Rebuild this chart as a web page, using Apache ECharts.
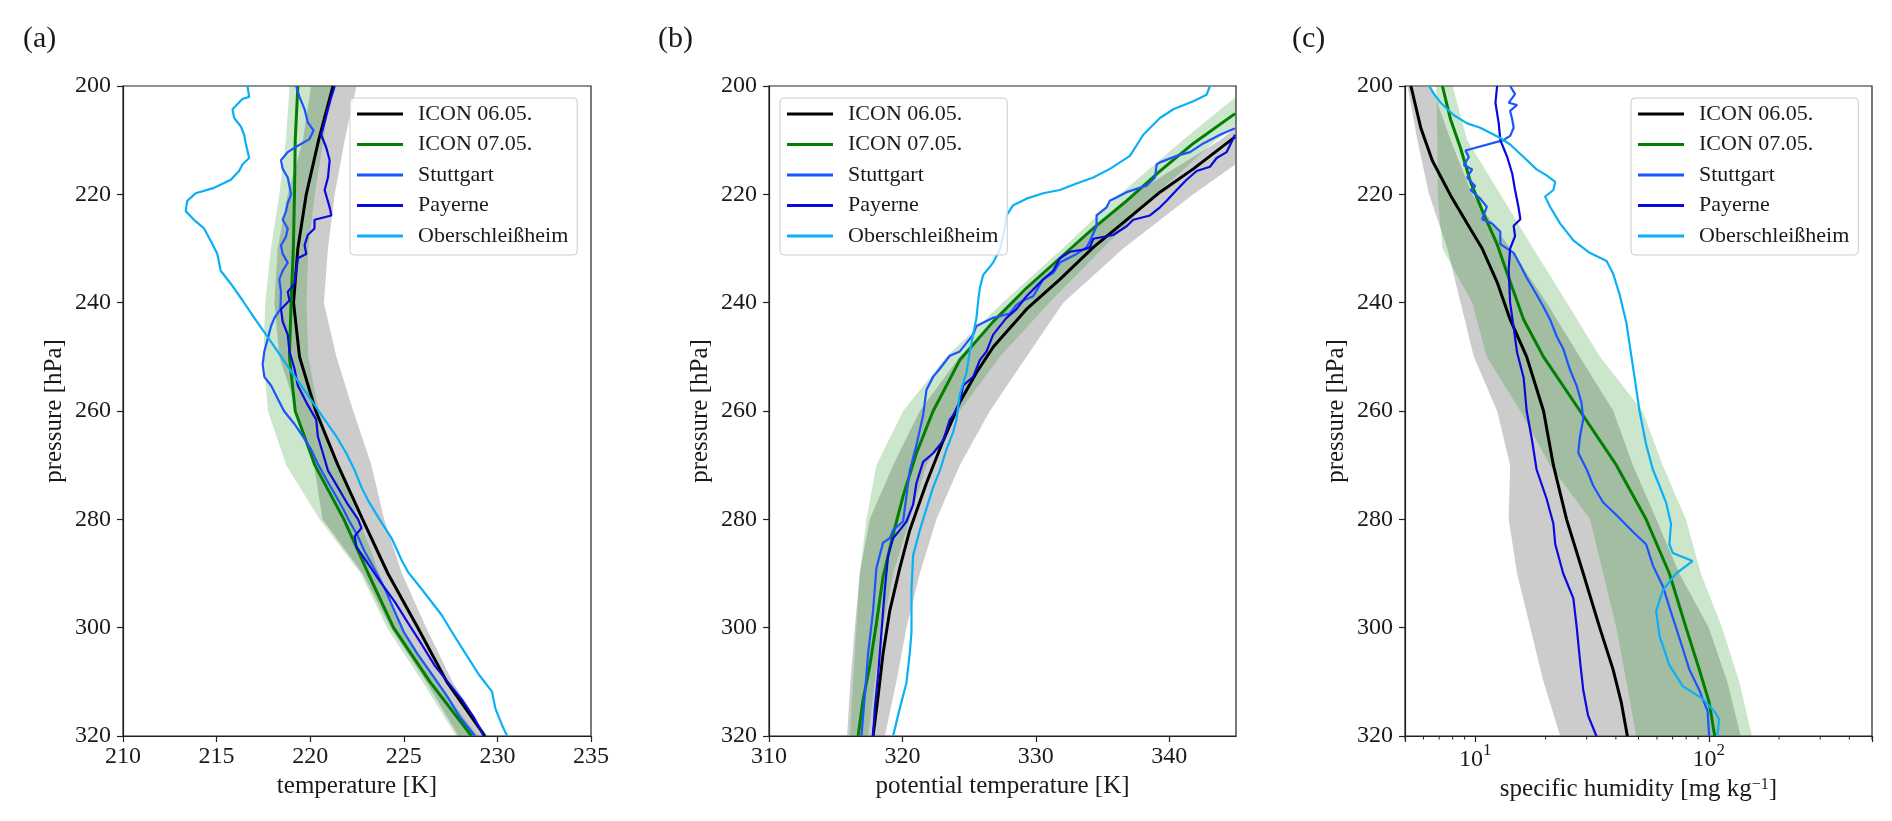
<!DOCTYPE html>
<html><head><meta charset="utf-8">
<script src="https://cdn.jsdelivr.net/npm/echarts@6/dist/echarts.min.js"></script>
<style>html,body{margin:0;padding:0;background:#fff}#chart{width:1892px;height:821px}</style>
</head><body><div id="chart"></div>
<script>
// ---------- names, ticks, labels ----------
const seriesNames = ['ICON 06.05.', 'ICON 07.05.', 'Stuttgart', 'Payerne', 'Oberschleißheim'];
const seriesColors = ['#000000', '#008000', '#1a55ff', '#0a0ae0', '#0ab0f5'];
const panelLabels = ['(a)', '(b)', '(c)'];
const xAxisNames = ['temperature [K]', 'potential temperature [K]', 'specific humidity [mg kg{s|−1}]'];
const yAxisName = 'pressure [hPa]';
const pressureTicks = [200, 220, 240, 260, 280, 300, 320];
const tempTicks = [210, 215, 220, 225, 230, 235];
const thetaTicks = [310, 320, 330, 340];
const humidityMajorTicks = [10, 100];
const humidityMajorLabels = ['{b|10}{s|1}', '{b|10}{s|2}'];
const humidityMinorTicks = [5, 6, 7, 8, 9, 20, 30, 40, 50, 60, 70, 80, 90, 200, 300, 400, 500];

// ---------- panel (a): temperature [K] vs pressure [hPa] ----------
const tempIcon0605 = [[221.22,200],[220.45,210],[219.79,220],[219.34,230],[219.11,240],[219.43,250],[220.3,260],[221.48,270],[222.8,280],[224.15,290],[225.75,300],[227.3,310],[229.33,320]];
const tempIcon0705 = [[219.34,200],[219.2,210],[219.16,220],[219.1,230],[218.98,240],[218.89,250],[219.2,260],[220.25,270],[221.8,280],[223.1,290],[224.45,300],[226.4,310],[228.62,320]];
const tempStuttgart = [[219.25,200],[219.43,202],[219.7,204.3],[219.87,206.7],[220.18,208.2],[219.96,209.8],[219.16,211.4],[218.8,212.2],[218.44,213.7],[218.53,215.3],[218.8,216.9],[218.89,218.4],[218.98,220],[218.8,221.6],[218.71,223.1],[218.53,224.7],[218.8,226.3],[218.71,227.8],[218.44,229.4],[218.53,231],[218.8,232.6],[218.53,234.1],[218.35,235.7],[218.44,238],[218.41,241.2],[218.09,242.8],[217.91,244.3],[217.73,246.7],[217.55,249],[217.46,251.4],[217.55,253.7],[217.91,255.3],[218.26,257.7],[218.6,260],[219.16,262.4],[219.61,264.7],[220.05,267.1],[220.41,269.8],[220.86,272.6],[221.31,275.3],[221.75,278],[222.1,280.4],[222.5,282.8],[222.9,285.9],[223.4,289],[224.0,292.9],[224.5,296.9],[225.0,300.8],[225.7,304.7],[226.5,308.6],[227.3,312.6],[228.0,316.5],[228.8,320]];
const tempPayerne = [[221.31,200],[221.13,202],[220.95,204.3],[220.77,206.7],[220.59,209],[220.86,211.4],[221.04,213.7],[220.95,216.9],[220.77,219.2],[221.04,222.4],[221.13,223.9],[220.23,224.7],[220.23,226.3],[219.87,227.5],[219.7,229.4],[219.79,231],[219.34,231.8],[219.25,234.1],[219.16,236.5],[218.8,238],[218.89,239.6],[218.44,241.2],[218.53,243.5],[218.8,245.9],[218.89,249],[219.16,252.2],[219.34,255.3],[219.79,258.4],[220.32,261.6],[220.41,264.7],[220.68,267.8],[220.95,271],[221.48,274.1],[222.02,277.3],[222.56,280],[222.74,281.6],[222.38,283.1],[222.47,285.1],[223.09,288.2],[223.72,291.4],[224.53,295.3],[225.24,299.2],[225.96,303.1],[226.67,307.1],[227.39,310.2],[228.1,313.3],[228.73,316.5],[229.27,320]];
const tempOberschleissheim = [[216.65,200],[216.74,202],[216.38,202.4],[215.85,204.3],[215.94,205.9],[216.3,207.5],[216.47,209],[216.56,210.6],[216.74,213.3],[216.38,214.5],[216.2,215.7],[215.76,217.3],[214.87,218.8],[213.88,219.8],[213.43,221.2],[213.35,223.1],[213.79,224.7],[214.33,226.3],[214.69,228.6],[215.04,231],[215.22,234.1],[215.76,236.5],[216.39,239.6],[217.01,242.8],[217.64,245.9],[218.26,249],[218.89,252.2],[219.52,255.3],[220.14,258.4],[220.77,261.6],[221.4,264.7],[221.93,267.8],[222.38,271],[222.74,274.1],[223.09,276.5],[223.63,279.6],[224.35,283.5],[224.88,287.5],[225.24,289.8],[225.96,292.9],[227.03,297.7],[227.57,300.8],[228.28,304.7],[229.0,308.6],[229.71,311.8],[229.89,314.9],[230.25,318],[230.52,320]];
// spread bands: [pressure, low, high]
const tempBand0605 = [[200,220.05,222.47],[210,219.61,221.84],[220,218.8,221.31],[230,218.26,220.95],[240,218.09,220.73],[250,218.35,221.4],[260,219.3,222.3],[270,220.2,223.27],[280,220.66,223.95],[290,222.8,224.9],[300,224.3,226.2],[310,226.2,227.6],[320,227.92,229.45]];
const tempBand0705 = [[200,218.9,221.15],[210,218.7,220.7],[220,218.35,220.25],[230,217.9,219.9],[240,217.6,219.8],[250,217.5,219.9],[260,217.74,220.45],[270,218.72,221.5],[280,220.5,222.6],[290,222.7,223.7],[300,224.1,224.9],[310,226.0,226.8],[320,227.8,228.95]];

// ---------- panel (b): potential temperature [K] vs pressure [hPa] ----------
const thetaIcon0605 = [[344.93,209.4],[341.8,215.3],[339.3,219.6],[336.8,224.7],[334.3,229.8],[331.8,235.7],[329.3,241.2],[326.8,248.2],[325.55,252.9],[324.3,258.4],[323.05,265.5],[321.8,273.3],[320.55,282],[319.8,289],[319.05,296.9],[318.55,304.7],[318.18,312.6],[317.8,320]];
const thetaIcon0705 = [[344.93,205.1],[341.8,210.6],[339.3,215.7],[336.8,221.2],[334.3,226.3],[331.8,231.8],[329.3,237.3],[326.8,243.5],[324.3,250.6],[322.3,260],[321.05,267.8],[320.05,275.7],[319.3,282.8],[318.55,290.6],[318.05,299.2],[317.55,307.1],[317.05,313.3],[316.68,320]];
const thetaStuttgart = [[344.93,207.8],[343.8,209],[342.55,210.6],[341.55,212.2],[340.55,212.9],[339.3,214.1],[339.05,214.5],[338.93,216.9],[338.3,218.4],[336.8,219.6],[335.55,221.2],[335.3,222.4],[334.55,223.9],[334.55,225.9],[334.05,228.6],[333.8,229.8],[333.05,231],[331.8,232.6],[331.3,234.5],[330.55,235.7],[329.8,238.8],[329.05,239.6],[328.55,240.4],[328.05,242],[326.8,242.8],[325.55,244.3],[325.3,245.9],[324.3,249],[323.55,249.8],[322.8,252.2],[322.3,253.7],[321.8,256.1],[321.55,260.8],[321.05,266.3],[320.55,271],[320.3,275.7],[320.05,280.4],[319.3,282],[319.05,283.5],[318.55,284.3],[318.05,289],[317.8,296.9],[317.43,304.7],[317.18,312.6],[316.93,320]];
const thetaPayerne = [[344.93,209],[344.3,212.2],[343.55,213.3],[343.05,214.9],[342.05,215.7],[341.3,217.3],[340.55,219.2],[339.8,221.2],[339.3,222.4],[338.55,223.9],[337.3,224.7],[336.8,225.9],[335.8,227.5],[334.3,228.2],[334.05,229.8],[333.55,230.2],[332.55,230.6],[331.8,231.8],[331.3,234.1],[330.55,235.7],[329.3,238.8],[328.55,241.2],[327.8,242.8],[326.8,245.9],[326.3,249],[325.8,250.6],[325.3,253.7],[324.55,255.3],[324.3,258.4],[323.8,260.8],[323.55,261.6],[323.05,265.5],[322.3,267.8],[321.55,269.4],[321.05,273.3],[320.8,277.3],[320.3,280.4],[319.8,282],[319.3,283.5],[318.93,286.7],[318.68,292.9],[318.43,300.8],[318.18,308.6],[317.93,314.9],[317.8,320]];
const thetaOberschleissheim = [[343.05,200],[342.8,201.6],[341.8,202.8],[340.3,204.3],[339.3,205.9],[338.05,209],[337.05,212.9],[335.55,215.3],[334.3,216.9],[333.05,218],[331.8,219.2],[330.55,219.8],[329.3,220.8],[328.3,222],[327.8,223.9],[327.68,226.3],[327.3,230.2],[326.8,232.6],[326.05,234.9],[325.8,237.3],[325.68,239.6],[325.55,242.8],[325.3,245.9],[325.05,249],[324.8,252.9],[324.3,256.9],[324.05,261.6],[323.8,263.9],[323.3,267.1],[322.8,271],[322.3,274.1],[321.8,278],[321.3,282],[320.8,286.7],[320.68,292.9],[320.68,300.8],[320.55,304.7],[320.3,310.2],[319.8,314.9],[319.3,320]];
const thetaBand0605 = [[200,349.0,352.0],[210,343.8,347.5],[220,337.3,341.8],[230,332.8,336.55],[240,328.3,332.05],[250,324.3,329.3],[260,321.3,326.55],[270,319.3,324.3],[280,317.55,322.55],[290,316.8,321.3],[300,316.43,320.3],[310,316.1,319.55],[320,315.85,318.68]];
const thetaBand0705 = [[200,346.0,349.0],[210,341.0,343.5],[220,336.3,339.0],[230,332.0,335.0],[240,327.5,331.0],[250,323.3,327.3],[260,320.05,324.3],[270,318.05,321.8],[280,317.3,320.55],[290,316.8,319.3],[300,316.55,318.55],[310,316.3,317.93],[320,316.05,317.43]];

// ---------- panel (c): specific humidity [mg/kg] vs pressure [hPa] ----------
const qIcon0605 = [[5.30,200],[5.84,207.7],[6.55,213.8],[7.84,220.2],[9.23,225.4],[10.7,230],[12.4,236.2],[14.1,243.1],[16.6,250],[19.6,260],[21.6,270],[24.6,280],[29.0,290],[34.1,300],[38.9,307.7],[42.2,313.8],[44.8,320]];
const qIcon0705 = [[7.23,200],[7.84,206.2],[8.65,211.5],[9.54,217.7],[10.9,223.8],[12.4,229.2],[13.7,234.6],[16.1,243.1],[19.6,250],[28.1,260],[40.2,270],[53.9,280],[67.8,290],[79.9,300],[91.0,307.7],[100.4,313.8],[106,320]];
const qStuttgart = [[14.1,200],[14.8,201.5],[13.9,203.1],[15.1,203.5],[14.1,204.6],[14.4,206.2],[14.6,207.7],[14.1,209.2],[13.2,210],[9.08,211.9],[9.38,213.1],[8.94,214.6],[9.70,215.4],[9.23,216.9],[10.0,218.5],[9.54,219.2],[10.5,220.8],[11.2,222.3],[10.7,224.6],[11.8,225.4],[12.8,226.9],[12.8,229.2],[14.6,230.8],[15.6,233.1],[16.6,235.4],[18.3,238.5],[19.6,240.8],[20.9,243.1],[22.3,246.2],[23.8,248.5],[25.4,252.3],[27.2,255.4],[28.5,258.5],[29.0,261.5],[28.1,264.6],[27.6,267.7],[30.0,270.8],[32.0,273.8],[35.3,276.9],[40.2,279.2],[47.3,282.3],[53.9,284.6],[57.6,288.5],[63.5,292.3],[67.8,296.2],[72.4,300],[77.3,303.8],[82.5,307.7],[91.0,311.5],[98.8,315.4],[100.4,320]];
const qPayerne = [[12.4,200],[12.2,203.1],[12.6,206.9],[12.8,210],[13.7,213.1],[14.4,216.2],[14.8,219.2],[15.3,222.3],[15.6,224.6],[14.6,225.8],[14.8,227.7],[14.1,230],[13.9,233.8],[14.1,240],[14.6,244.6],[15.1,249.2],[16.1,253.8],[16.6,260],[17.5,265.4],[18.3,270.8],[20.2,276.2],[21.6,280.8],[22.0,284.6],[23.8,290],[26.3,294.6],[27.2,300],[28.1,306.2],[29.0,311.5],[30.4,316.2],[33.0,320]];
const qOberschleissheim = [[6.34,200],[6.66,201.5],[7.11,203.1],[8.10,205.4],[9.23,206.9],[10.5,207.7],[12.8,209.6],[14.1,210.8],[16.1,213.1],[18.3,215.4],[20.2,216.5],[22.0,217.7],[21.6,219.2],[19.9,220.4],[20.9,222.3],[23.1,225.4],[26.3,228.5],[30.9,230.8],[36.5,232.3],[38.9,234.6],[41.5,238.5],[44.4,243.8],[45.8,247.7],[48.1,253.8],[50.5,260],[53.9,266.2],[57.6,270.8],[61.5,273.8],[65.6,276.9],[68.9,280.8],[67.8,284.6],[70.1,286.2],[85.2,287.7],[72.4,290],[63.5,293.1],[59.5,296.9],[61.5,301.5],[67.8,306.9],[77.3,310.8],[94.0,313.1],[105.4,315.4],[110.7,316.9],[108.9,320]];
const qBand0605 = [[200,5.13,6.5],[210,5.65,7.84],[220,6.34,9.7],[230,7.59,14.1],[240,8.65,20.2],[250,9.86,28.0],[260,12.4,39.0],[270,14.1,47.3],[280,13.9,59.6],[290,15.1,74.8],[300,17.2,100],[310,19.6,120],[320,23.1,137]];
const qBand0705 = [[200,6.8,8.0],[210,6.88,9.23],[220,6.9,12.8],[230,7.23,17.7],[240,9.7,24.7],[250,11.2,34.2],[260,15.6,52],[270,20.9,63.5],[280,31.0,79.8],[290,35.3,92.5],[300,40.2,114],[310,44.4,135],[320,48.9,153]];

// ---------- styling / layout ----------
const FONT = "'Liberation Serif','DejaVu Serif',serif";
const TXT = '#1a1a1a';
const AX = '#222222';
const grids = [
  {left: 123, top: 86, width: 468, height: 650},
  {left: 769, top: 86, width: 467, height: 650},
  {left: 1405, top: 86, width: 467, height: 650}
];
const legendLeft = [350, 780, 1631];
const titleLeft = [18, 653, 1287];
const bandGrey = 'rgba(128,128,128,0.4)';
const bandGreen = 'rgba(0,128,0,0.2)';

function bandSeries(rows, color, gi, nm) {
  return {
    type: 'custom', name: nm, xAxisIndex: gi, yAxisIndex: gi, data: rows,
    encode: {x: [1, 2], y: 0}, clip: true, silent: true, z: 1, animation: false,
    renderItem: function (params, api) {
      if (params.dataIndex !== 0) return null;
      const pts = [];
      for (let i = 0; i < rows.length; i++) pts.push(api.coord([rows[i][1], rows[i][0]]));
      for (let i = rows.length - 1; i >= 0; i--) pts.push(api.coord([rows[i][2], rows[i][0]]));
      const cs = params.coordSys;
      return {
        type: 'polygon', shape: {points: pts}, style: {fill: color, stroke: null},
        clipPath: {type: 'rect', shape: {x: cs.x, y: cs.y, width: cs.width, height: cs.height}}
      };
    }
  };
}
function lineSeries(data, idx, gi) {
  return {
    type: 'line', name: seriesNames[idx], xAxisIndex: gi, yAxisIndex: gi, data: data,
    symbol: 'none', showSymbol: false, clip: true, z: 3, animation: false,
    lineStyle: {color: seriesColors[idx], width: idx < 2 ? 3 : 2.2},
    itemStyle: {color: seriesColors[idx]}
  };
}
const tickStyle = {show: true, inside: false, length: 6, lineStyle: {color: AX, width: 1.2}};
const lineStyleAx = {show: true, lineStyle: {color: AX, width: 1.2}};
const labelStyle = {fontFamily: FONT, fontSize: 24, color: TXT};
const nameStyle = {fontFamily: FONT, fontSize: 25, color: TXT,
  rich: {s: {fontFamily: FONT, fontSize: 16, color: TXT, verticalAlign: 'top', lineHeight: 16}}};

const yAxes = [0, 1, 2].map(gi => ({
  type: 'value', gridIndex: gi, min: 200, max: 320, interval: 20, inverse: true,
  name: yAxisName, nameLocation: 'middle', nameRotate: 90, nameGap: 56, nameTextStyle: nameStyle,
  axisLine: lineStyleAx, axisTick: tickStyle,
  axisLabel: Object.assign({margin: 12, formatter: v => pressureTicks.includes(v) ? String(v) : ''}, labelStyle),
  splitLine: {show: false}
}));
const xAxes = [
  {type: 'value', gridIndex: 0, min: tempTicks[0], max: tempTicks[tempTicks.length - 1], interval: 5,
   axisLabel: Object.assign({margin: 9, formatter: v => tempTicks.includes(v) ? String(v) : ''}, labelStyle)},
  {type: 'value', gridIndex: 1, min: 310, max: 345, interval: 10,
   axisTick: Object.assign({customValues: thetaTicks}, tickStyle),
   axisLabel: Object.assign({margin: 9, customValues: thetaTicks, formatter: v => thetaTicks.includes(v) ? String(v) : ''}, labelStyle)},
  {type: 'log', logBase: 10, gridIndex: 2, min: 5, max: 500,
   axisLabel: Object.assign({margin: 6, formatter: function (v) {
     for (let i = 0; i < humidityMajorTicks.length; i++) {
       if (Math.abs(v - humidityMajorTicks[i]) < 1e-6 * humidityMajorTicks[i]) return humidityMajorLabels[i];
     }
     return '';
   }, rich: {
     b: {fontFamily: FONT, fontSize: 24, color: TXT, lineHeight: 30, verticalAlign: 'bottom'},
     s: {fontFamily: FONT, fontSize: 17, color: TXT, lineHeight: 30, verticalAlign: 'top'}
   }}, labelStyle)}
].map((ax, gi) => Object.assign({
  name: xAxisNames[gi], nameLocation: 'middle', nameGap: 38, nameTextStyle: nameStyle,
  axisLine: lineStyleAx, axisTick: ax.axisTick || tickStyle, splitLine: {show: false}, minorTick: {show: false}
}, ax));

const minorTickSeries = {
  type: 'custom', xAxisIndex: 2, yAxisIndex: 2, data: humidityMinorTicks.map(v => [v, 320]),
  encode: {x: 0, y: 1}, clip: false, silent: true, z: 5, animation: false,
  renderItem: function (params, api) {
    const p = api.coord([api.value(0), api.value(1)]);
    return {type: 'line', shape: {x1: p[0], y1: p[1], x2: p[0], y2: p[1] + 3.5}, style: {stroke: AX, lineWidth: 1}};
  }
};

const series = [
  bandSeries(tempBand0605, bandGrey, 0, 'band a1'), bandSeries(tempBand0705, bandGreen, 0, 'band a2'),
  lineSeries(tempIcon0605, 0, 0), lineSeries(tempIcon0705, 1, 0), lineSeries(tempStuttgart, 2, 0), lineSeries(tempPayerne, 3, 0), lineSeries(tempOberschleissheim, 4, 0),
  bandSeries(thetaBand0605, bandGrey, 1, 'band b1'), bandSeries(thetaBand0705, bandGreen, 1, 'band b2'),
  lineSeries(thetaIcon0605, 0, 1), lineSeries(thetaIcon0705, 1, 1), lineSeries(thetaStuttgart, 2, 1), lineSeries(thetaPayerne, 3, 1), lineSeries(thetaOberschleissheim, 4, 1),
  bandSeries(qBand0605, bandGrey, 2, 'band c1'), bandSeries(qBand0705, bandGreen, 2, 'band c2'),
  lineSeries(qIcon0605, 0, 2), lineSeries(qIcon0705, 1, 2), lineSeries(qStuttgart, 2, 2), lineSeries(qPayerne, 3, 2), lineSeries(qOberschleissheim, 4, 2),
  minorTickSeries
];

const option = {
  animation: false,
  backgroundColor: '#ffffff',
  title: panelLabels.map((t, i) => ({text: t, left: titleLeft[i], top: 19, textStyle: {fontFamily: FONT, fontSize: 30, fontWeight: 'normal', color: TXT}})),
  grid: grids.map(g => Object.assign({show: true, borderColor: AX, borderWidth: 1.2, backgroundColor: 'transparent', containLabel: false}, g)),
  legend: [0, 1, 2].map(i => ({
    data: seriesNames.map((n, k) => ({name: n, icon: 'rect', itemStyle: {color: seriesColors[k]}})),
    left: legendLeft[i], top: 98, orient: 'vertical', selectedMode: false,
    itemWidth: 46, itemHeight: 3, itemGap: 8.5, padding: [5, 9, 8, 7],
    backgroundColor: 'rgba(255,255,255,0.8)', borderColor: '#cccccc', borderWidth: 1, borderRadius: 4,
    textStyle: {fontFamily: FONT, fontSize: 22, color: TXT, lineHeight: 22, padding: [0, 0, 0, 10]}
  })),
  xAxis: xAxes,
  yAxis: yAxes,
  series: series
};
const chart = echarts.init(document.getElementById('chart'), null, {renderer: 'canvas'});
chart.setOption(option);
</script></body></html>
